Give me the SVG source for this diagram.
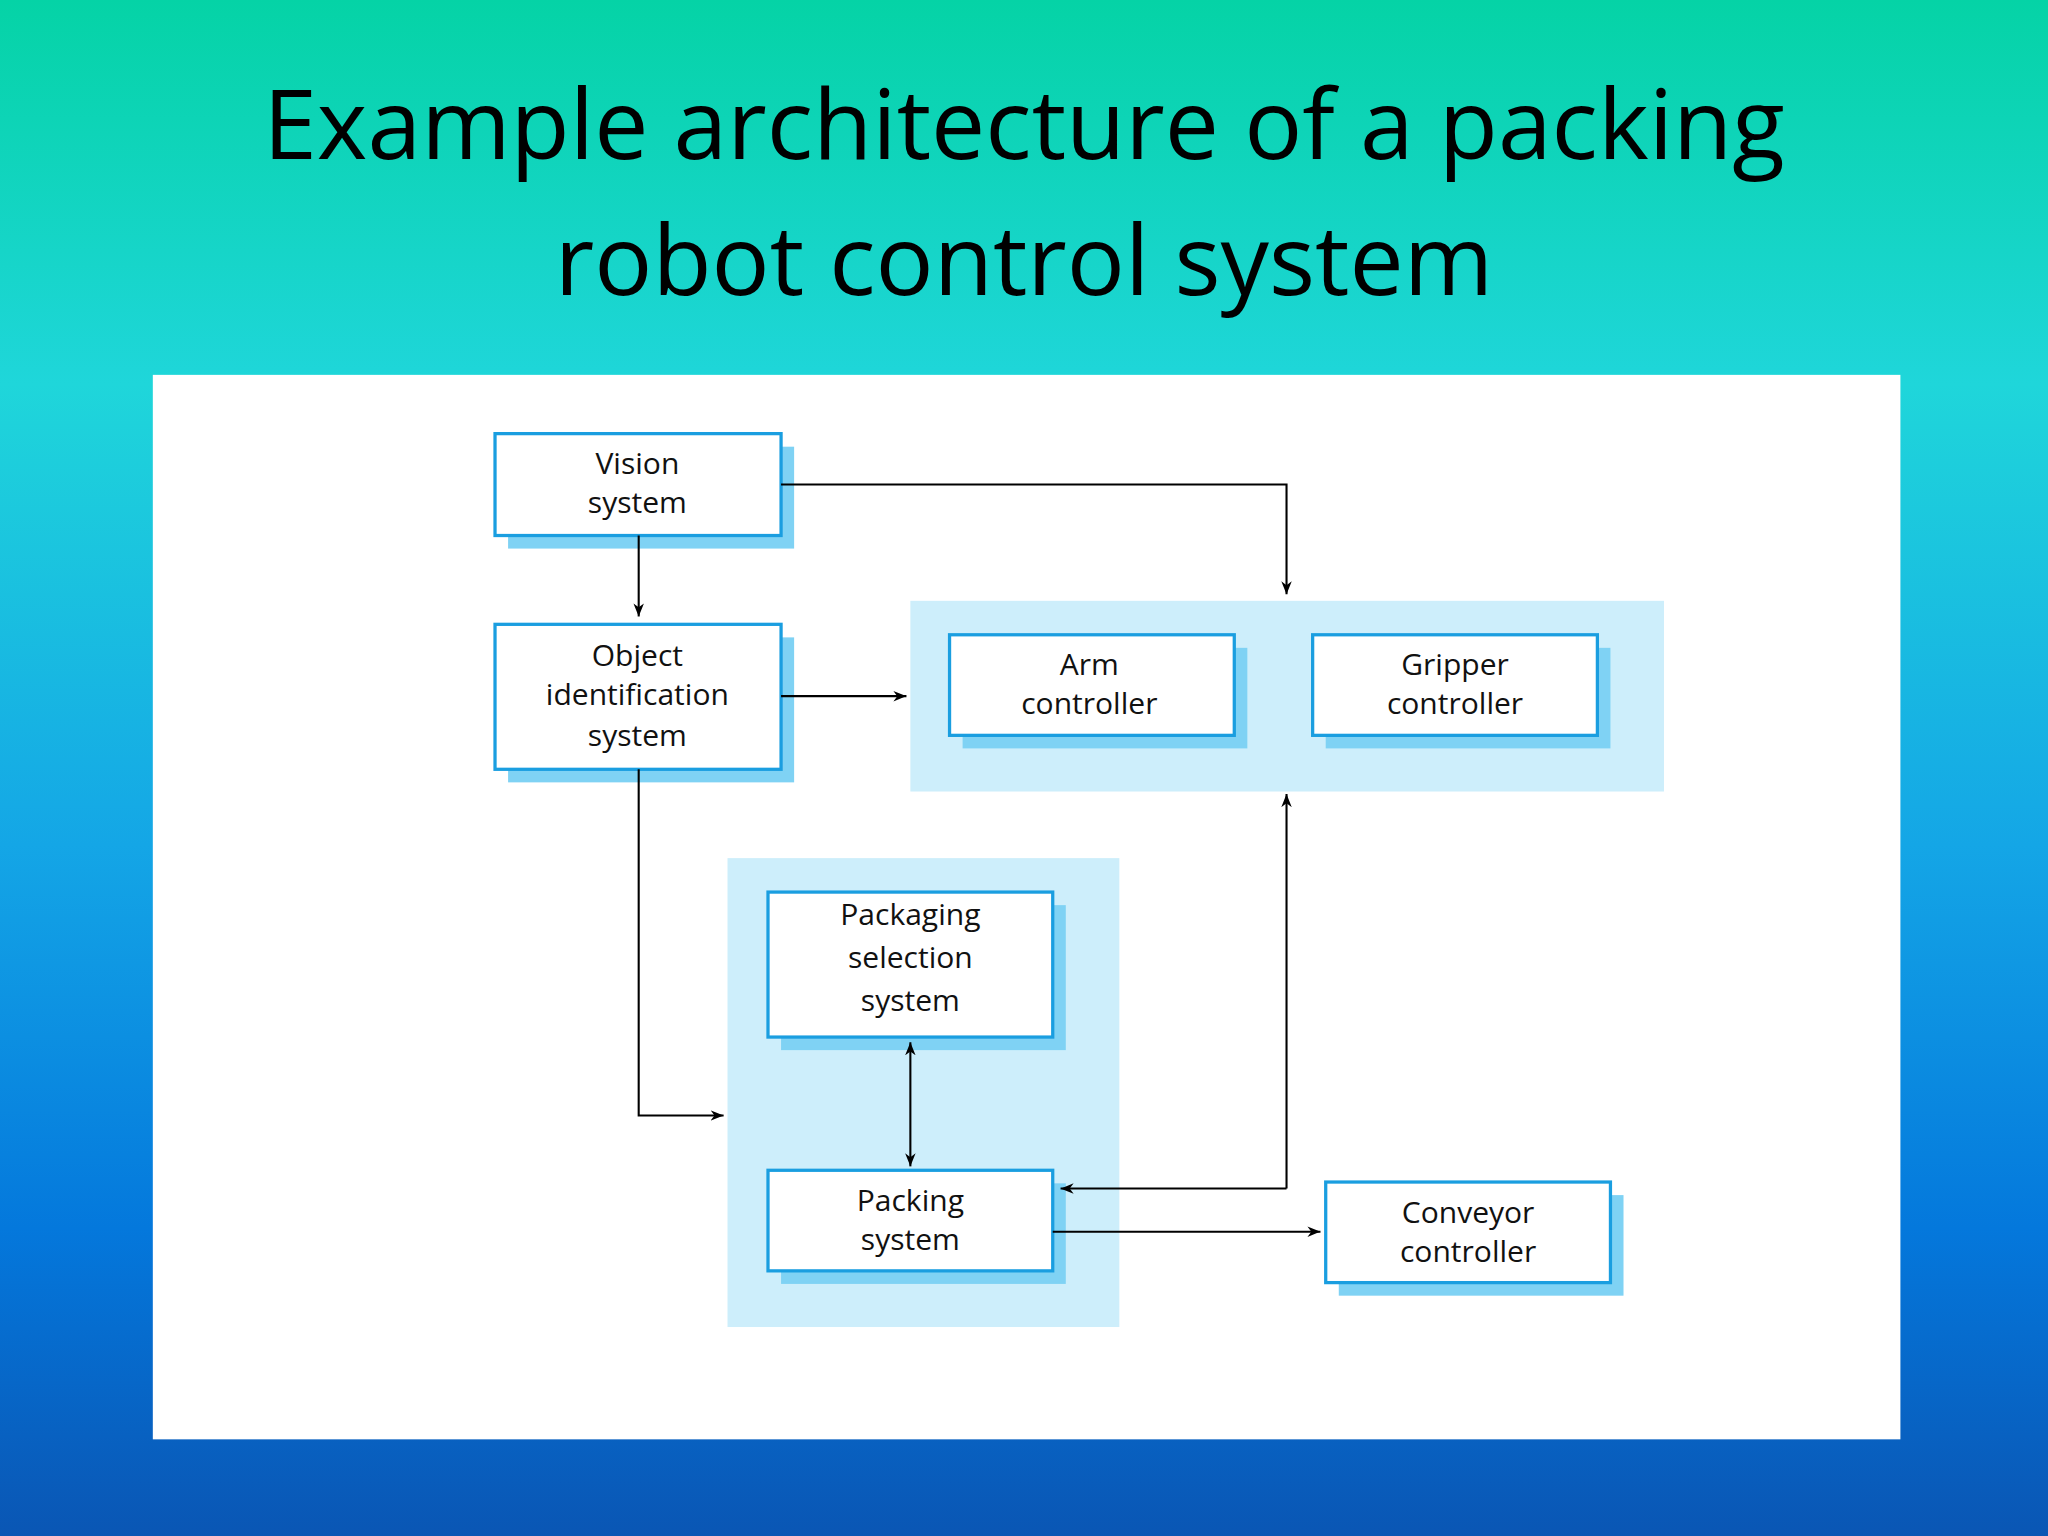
<svg xmlns="http://www.w3.org/2000/svg" width="2048" height="1536" viewBox="0 0 2048 1536">
<defs>
<linearGradient id="bg" x1="0" y1="0" x2="0" y2="1">
<stop offset="0" stop-color="#05d3a6"/>
<stop offset="0.25" stop-color="#1fd6da"/>
<stop offset="0.55" stop-color="#14a6e6"/>
<stop offset="0.8" stop-color="#0478dc"/>
<stop offset="1" stop-color="#0a56b4"/>
</linearGradient>
<marker id="ah" viewBox="0 0 10 10" refX="10" refY="5" markerWidth="10" markerHeight="10" markerUnits="userSpaceOnUse" orient="auto-start-reverse">
<path d="M0,1 L10,5 L0,9 L3,5 Z" fill="#000"/>
</marker>
<style>
.box{fill:#fff;stroke:#1a9ee0;stroke-width:2.5}
.sh{fill:#7fd2f4}
.grp{fill:#cdeefb}
.t{font-family:"Open Sans","Liberation Sans",sans-serif;font-size:23px;fill:#111;text-anchor:middle}
.c{fill:none;stroke:#000;stroke-width:1.6}
.title{font-family:"Open Sans","Liberation Sans",sans-serif;font-size:74px;fill:#000;text-anchor:middle}
</style>
</defs>
<rect width="2048" height="1536" fill="url(#bg)"/>
<g transform="scale(1.30612)">
<text class="title" x="784" y="122">Example architecture of a packing</text>
<text class="title" x="784" y="226">robot control system</text>
<rect x="117" y="287" width="1338" height="815" fill="#fff"/>
<rect class="grp" x="697" y="460" width="577" height="146"/>
<rect class="grp" x="557" y="657" width="300" height="359"/>
<g id="vision"><rect class="sh" x="389" y="342" width="219" height="78"/><rect class="box" x="379" y="332" width="219" height="78"/><text class="t" x="488" y="363">Vision</text><text class="t" x="488" y="393">system</text></g>
<g id="object"><rect class="sh" x="389" y="488" width="219" height="111"/><rect class="box" x="379" y="478" width="219" height="111"/><text class="t" x="488" y="510">Object</text><text class="t" x="488" y="540">identification</text><text class="t" x="488" y="571">system</text></g>
<g id="arm"><rect class="sh" x="737" y="496" width="218" height="77"/><rect class="box" x="727" y="486" width="218" height="77"/><text class="t" x="834" y="517">Arm</text><text class="t" x="834" y="547">controller</text></g>
<g id="gripper"><rect class="sh" x="1015" y="496" width="218" height="77"/><rect class="box" x="1005" y="486" width="218" height="77"/><text class="t" x="1114" y="517">Gripper</text><text class="t" x="1114" y="547">controller</text></g>
<g id="packaging"><rect class="sh" x="598" y="693" width="218" height="111"/><rect class="box" x="588" y="683" width="218" height="111"/><text class="t" x="697" y="708">Packaging</text><text class="t" x="697" y="741">selection</text><text class="t" x="697" y="774">system</text></g>
<g id="packing"><rect class="sh" x="598" y="906" width="218" height="77"/><rect class="box" x="588" y="896" width="218" height="77"/><text class="t" x="697" y="927">Packing</text><text class="t" x="697" y="957">system</text></g>
<g id="conveyor"><rect class="sh" x="1025" y="915" width="218" height="77"/><rect class="box" x="1015" y="905" width="218" height="77"/><text class="t" x="1124" y="936">Conveyor</text><text class="t" x="1124" y="966">controller</text></g>
<g id="connectors">
<path class="c" d="M598,371 H985 V455" marker-end="url(#ah)"/>
<path class="c" d="M489,410 V472" marker-end="url(#ah)"/>
<path class="c" d="M598,533 H694" marker-end="url(#ah)"/>
<path class="c" d="M489,589 V854 H554" marker-end="url(#ah)"/>
<path class="c" d="M697,798 V893" marker-start="url(#ah)" marker-end="url(#ah)"/>
<path class="c" d="M985,910 V608" marker-end="url(#ah)"/>
<path class="c" d="M985,910 H812" marker-end="url(#ah)"/>
<path class="c" d="M806,943 H1011" marker-end="url(#ah)"/>
</g>
</g>
</svg>
